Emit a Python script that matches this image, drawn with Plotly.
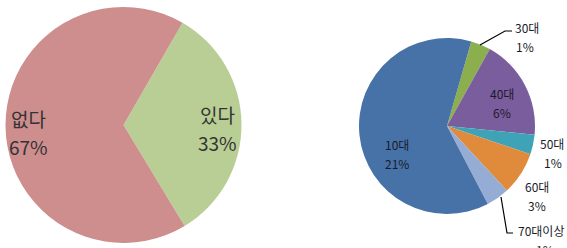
import plotly.graph_objects as go

W, H = 567, 248

# Left pie data
left_labels = ["있다", "없다"]
left_values = [33, 67]
left_text = ["33%", "67%"]
left_colors = ["#B8CE94", "#CD8E8D"]

# Right pie data (breakdown of 있다)
right_labels = ["30대", "40대", "50대", "60대", "70대이상", "10대"]
right_values = [1.2, 6.1, 1.2, 2.6, 1.4, 20.5]
right_text = ["1%", "6%", "1%", "3%", "1%", "21%"]
right_colors = ["#8CAF4E", "#7A5D9C", "#3FA3B8", "#E08A3C", "#95ACD4", "#4672A8"]

FONT = "Noto Sans CJK KR"

def px(x):
    return x / W

def py(y):
    return 1 - y / H

fig = go.Figure()
fig.add_trace(go.Pie(
    labels=left_labels, values=left_values, sort=False, direction="clockwise",
    rotation=30, textinfo="none", hoverinfo="label+percent",
    marker=dict(colors=left_colors, line=dict(width=0)),
    domain=dict(x=[px(5), px(242)], y=[(123 - 118) / H, (123 + 118) / H]),
    showlegend=False,
))
fig.add_trace(go.Pie(
    labels=right_labels, values=right_values, sort=False, direction="clockwise",
    rotation=16, textinfo="none", hoverinfo="label+percent",
    marker=dict(colors=right_colors, line=dict(width=0)),
    domain=dict(x=[px(447 - 88), px(447 + 88)], y=[(122 - 88) / H, (122 + 88) / H]),
    showlegend=False,
))

# label placement (pixel centres of name line and percent line)
left_pos = {"있다": ((217, 115), (217, 142)), "없다": ((28, 118), (28, 146))}
right_pos = {
    "30대": ((527, 27), (525, 46)),
    "40대": ((502, 93), (502, 112)),
    "50대": ((552, 143), (553, 162)),
    "60대": ((537, 186), (537, 205)),
    "70대이상": ((541, 230), (545, 249)),
    "10대": ((397, 144), (397, 163)),
}

annotations = []
for lab, txt in zip(left_labels, left_text):
    (x1, y1), (x2, y2) = left_pos[lab]
    for (x, y, t) in [(x1, y1, lab), (x2, y2, txt)]:
        annotations.append(dict(x=px(x), y=py(y), xref="paper", yref="paper", text=t,
                                showarrow=False, xanchor="center", yanchor="middle",
                                font=dict(family=FONT, size=19, color="#333333")))
for lab, txt in zip(right_labels, right_text):
    (x1, y1), (x2, y2) = right_pos[lab]
    for (x, y, t) in [(x1, y1, lab), (x2, y2, txt)]:
        annotations.append(dict(x=px(x), y=py(y), xref="paper", yref="paper", text=t,
                                showarrow=False, xanchor="center", yanchor="middle",
                                font=dict(family=FONT, size=12, color="#1a1a2a")))

leaders = [
    [(480, 45), (505, 31), (512, 31)],
    [(501, 197), (507, 233), (513, 233)],
]
shapes = []
for pts in leaders:
    path = "M " + " L ".join(f"{px(x)},{py(y)}" for x, y in pts)
    shapes.append(dict(type="path", path=path, xref="paper", yref="paper",
                       line=dict(color="#000000", width=1.2)))

fig.update_layout(
    width=W, height=H, margin=dict(l=0, r=0, t=0, b=0),
    paper_bgcolor="white", plot_bgcolor="white",
    annotations=annotations, shapes=shapes,
)

fig.write_html("out.html", config={"displayModeBar": False},
               post_script="document.body.style.margin='0';document.body.style.overflow='hidden';")
